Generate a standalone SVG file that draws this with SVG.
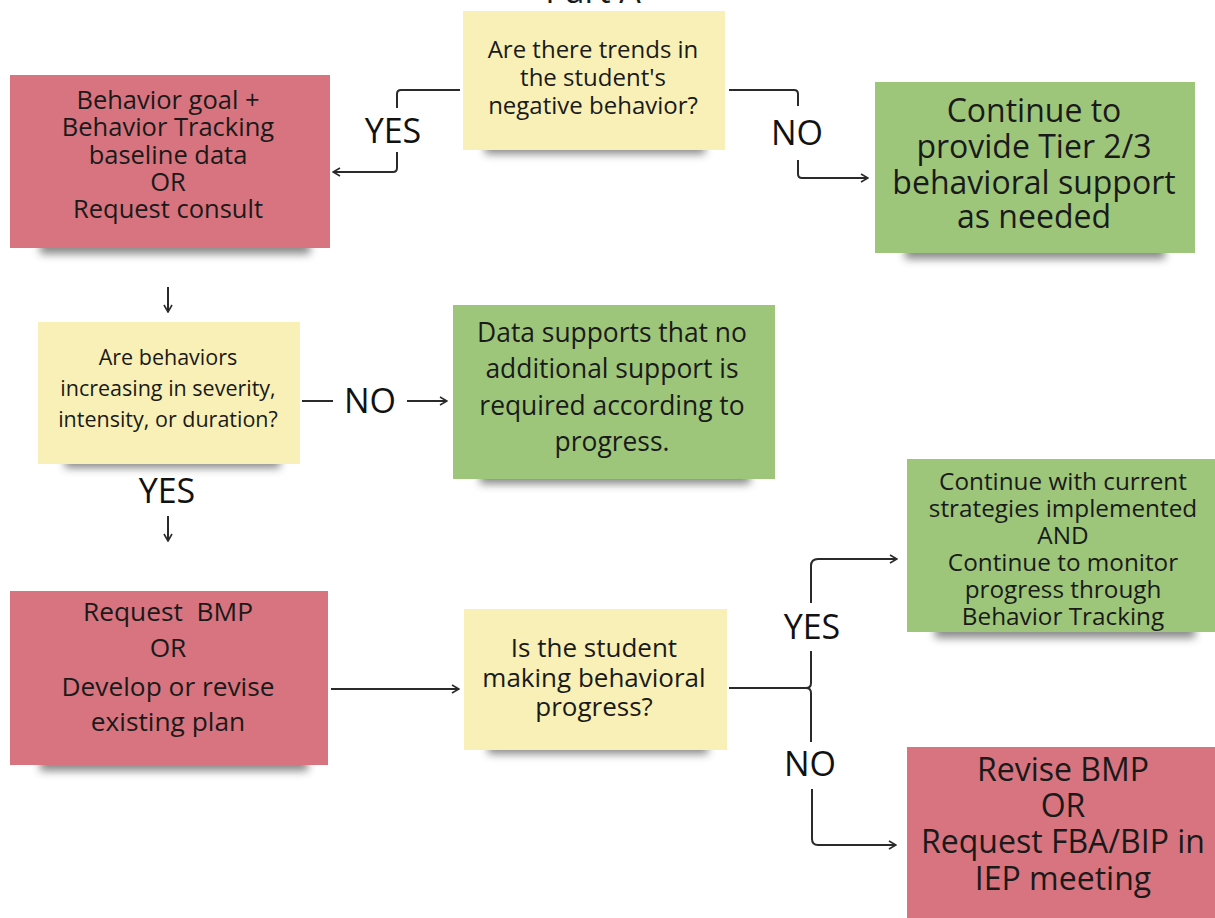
<svg xmlns="http://www.w3.org/2000/svg" width="1215" height="918" viewBox="0 0 1215 918">
  <style>
    .yellow { fill: #f8f0b6; }
    .red { fill: #d7747f; }
    .green { fill: #9dc67b; }
    .shadow { fill: #3a3a3a; opacity: 0.6; filter: url(#soft); }
    text { font-family: "Open Sans", "DejaVu Sans", sans-serif; fill: #1a1a1a; text-anchor: middle; }
    .lbl { font-size: 34px; fill: #111; }
    .conn { fill: none; stroke: #2a2a2a; stroke-width: 2; stroke-linejoin: round; }
  </style>
  <defs>
    <filter id="soft" x="-20%" y="-100%" width="140%" height="300%">
      <feGaussianBlur stdDeviation="4"/>
    </filter>
    <marker id="open" viewBox="0 0 10 10" refX="9" refY="5" markerWidth="10" markerHeight="10" markerUnits="userSpaceOnUse" orient="auto">
      <path d="M2,1 L9,5 L2,9" fill="none" stroke="#2a2a2a" stroke-width="1.6"/>
    </marker>
  </defs>

  <rect width="1215" height="918" fill="#ffffff"/>

  <!-- heading, mostly above the top edge -->
  <text x="593" y="3" style="font-size:34px">Part A</text>

  <!-- Question: trends -->
  <g id="q-trends">
    <rect class="shadow" x="485" y="138" width="220" height="16"/>
    <rect class="yellow" x="463" y="11" width="262" height="139"/>
    <text style="font-size:24px"><tspan x="593" y="58">Are there trends in</tspan><tspan x="593" y="86">the student's</tspan><tspan x="593" y="114">negative behavior?</tspan></text>
  </g>

  <!-- Action: behavior goal -->
  <g id="a-goal">
    <rect class="shadow" x="40" y="236" width="270" height="18"/>
    <rect class="red" x="10" y="75" width="320" height="173"/>
    <text style="font-size:25.5px"><tspan x="168" y="109">Behavior goal +</tspan><tspan x="168" y="136">Behavior Tracking</tspan><tspan x="168" y="164">baseline data</tspan><tspan x="168" y="191">OR</tspan><tspan x="168" y="218">Request consult</tspan></text>
  </g>

  <!-- Outcome: continue tier support -->
  <g id="o-tier">
    <rect class="shadow" x="905" y="241" width="260" height="18"/>
    <rect class="green" x="875" y="82" width="320" height="171"/>
    <text style="font-size:32px"><tspan x="1034" y="122">Continue to</tspan><tspan x="1034" y="158">provide Tier 2/3</tspan><tspan x="1034" y="194">behavioral support</tspan><tspan x="1034" y="228">as needed</tspan></text>
  </g>

  <!-- Question: escalation -->
  <g id="q-escalation">
    <rect class="shadow" x="65" y="452" width="215" height="16"/>
    <rect class="yellow" x="38" y="322" width="262" height="142"/>
    <text style="font-size:21.5px"><tspan x="168" y="365">Are behaviors</tspan><tspan x="168" y="396">increasing in severity,</tspan><tspan x="168" y="427">intensity, or duration?</tspan></text>
  </g>

  <!-- Outcome: no additional support -->
  <g id="o-nosupport">
    <rect class="shadow" x="480" y="466" width="270" height="18"/>
    <rect class="green" x="453" y="305" width="322" height="174"/>
    <text style="font-size:26.4px"><tspan x="612" y="342">Data supports that no</tspan><tspan x="612" y="378">additional support is</tspan><tspan x="612" y="415">required according to</tspan><tspan x="612" y="451">progress.</tspan></text>
  </g>

  <!-- Action: behavior plan -->
  <g id="a-plan">
    <rect class="shadow" x="40" y="753" width="268" height="18"/>
    <rect class="red" x="10" y="591" width="318" height="174"/>
    <text style="font-size:26.3px"><tspan x="168" y="621">Request&#160; BMP</tspan><tspan x="168" y="657">OR</tspan><tspan x="168" y="696">Develop or revise</tspan><tspan x="168" y="731">existing plan</tspan></text>
  </g>

  <!-- Question: progress -->
  <g id="q-progress">
    <rect class="shadow" x="488" y="738" width="220" height="16"/>
    <rect class="yellow" x="464" y="609" width="263" height="141"/>
    <text style="font-size:26px"><tspan x="594" y="657">Is the student</tspan><tspan x="594" y="687">making behavioral</tspan><tspan x="594" y="716">progress?</tspan></text>
  </g>

  <!-- Outcome: continue strategies -->
  <g id="o-continue">
    <rect class="shadow" x="935" y="620" width="260" height="18"/>
    <rect class="green" x="907" y="459" width="308" height="173"/>
    <text style="font-size:24.3px"><tspan x="1063" y="490">Continue with current</tspan><tspan x="1063" y="517">strategies implemented</tspan><tspan x="1063" y="544">AND</tspan><tspan x="1063" y="571">Continue to monitor</tspan><tspan x="1063" y="598">progress through</tspan><tspan x="1063" y="625">Behavior Tracking</tspan></text>
  </g>

  <!-- Action: revise or escalate -->
  <g id="a-revise">
    <rect class="red" x="907" y="747" width="308" height="171"/>
    <text style="font-size:32px"><tspan x="1063" y="781">Revise BMP</tspan><tspan x="1063" y="817">OR</tspan><tspan x="1063" y="853">Request FBA/BIP in</tspan><tspan x="1063" y="890">IEP meeting</tspan></text>
  </g>

  <!-- Connectors and their labels -->
  <g id="connectors">
    <path class="conn" d="M460,90 H401 Q397,90 397,94 V108"/>
    <path class="conn" d="M397,152 V168 Q397,172 393,172 H333" marker-end="url(#open)"/>
    <text class="lbl" x="393" y="143">YES</text>

    <path class="conn" d="M729,90 H794 Q798,90 798,94 V106"/>
    <path class="conn" d="M798,160 V174 Q798,178 802,178 H868" marker-end="url(#open)"/>
    <text class="lbl" x="797" y="145">NO</text>

    <path class="conn" d="M168,287 V312" marker-end="url(#open)"/>

    <path class="conn" d="M302,401 H333"/>
    <text class="lbl" x="370" y="413">NO</text>
    <path class="conn" d="M407,401 H447" marker-end="url(#open)"/>

    <text class="lbl" x="167" y="503">YES</text>
    <path class="conn" d="M168,516 V541" marker-end="url(#open)"/>

    <path class="conn" d="M331,689 H459" marker-end="url(#open)"/>

    <path class="conn" d="M729,688 H806 Q811,688 811,683 V651"/>
    <path class="conn" d="M806,688 Q811,688 811,693 V742"/>
    <path class="conn" d="M811,603 V566 Q811,559 818,559 H897" marker-end="url(#open)"/>
    <text class="lbl" x="812" y="639">YES</text>

    <text class="lbl" x="810" y="776">NO</text>
    <path class="conn" d="M812,789 V839 Q812,845 818,845 H896" marker-end="url(#open)"/>
  </g>
</svg>
